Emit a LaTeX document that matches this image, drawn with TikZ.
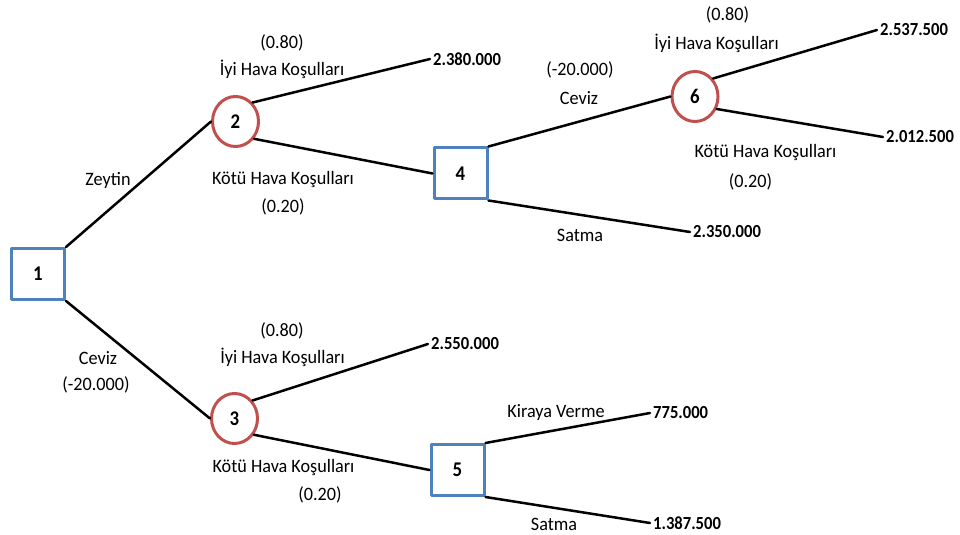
\documentclass[tikz,border=0pt]{standalone}
\usepackage{fontspec}
\setmainfont{Carlito}[FakeStretch=0.96]
\newfontfamily\numfont{Carlito}[FakeStretch=0.9]
\usepackage{tikz}
\usetikzlibrary{shapes.geometric}
\usetikzlibrary{positioning}
\definecolor{boxcol}{rgb}{0.31,0.506,0.741}
\definecolor{ringcol}{rgb}{0.753,0.314,0.302}
\tikzset{every node/.style={font=\fontsize{19}{21}\selectfont}, decision/.style={draw=boxcol, line width=3bp, rectangle, minimum width=53bp, minimum height=51bp, inner sep=0pt, font=\fontsize{21}{22}\selectfont\numfont\bfseries}, chance/.style={draw=ringcol, line width=3bp, ellipse, minimum width=46bp, minimum height=50bp, inner sep=0pt, font=\fontsize{21}{22}\selectfont\numfont\bfseries}, payoff/.style={anchor=west, inner sep=3bp, font=\fontsize{18.5}{20}\selectfont\numfont\bfseries}, branch/.style={line width=2.5bp, line cap=round}}

\begin{document}
\begin{tikzpicture}[line join=bevel,]
\useasboundingbox (0bp,0bp) rectangle (960bp,535bp);
%%
  \node (n1) at (38.0bp,261.0bp) [decision] {1};
  \node (n2) at (235.5bp,413.5bp) [chance] {2};
  \node (n3) at (234.5bp,116.5bp) [chance] {3};
  \node (n4) at (460.5bp,361.5bp) [decision] {4};
  \node (n5) at (457.5bp,65.0bp) [decision] {5};
  \node (n6) at (695.0bp,438.5bp) [chance] {6};
  \node (v_1) at (430.0bp,476.0bp) [payoff] {2.380.000};
  \node (v_2) at (877.0bp,505.0bp) [payoff] {2.537.500};
  \node (v_3) at (883.0bp,398.0bp) [payoff] {2.012.500};
  \node (v_4) at (690.0bp,303.0bp) [payoff] {2.350.000};
  \node (v_5) at (428.0bp,191.0bp) [payoff] {2.550.000};
  \node (v_6) at (650.0bp,122.0bp) [payoff] {775.000};
  \node (v_7) at (650.0bp,12.0bp) [payoff] {1.387.500};
  \draw [branch] (n1.north east) -- (n2.west);
  \node (l_zey) at (108.0bp,355.0bp) {Zeytin};
  \draw [branch] (n1.south east) -- (n3.west);
  \node (l_cev1) at (98.0bp,177.0bp) {Ceviz};
  \node (l_cev1c) at (96.0bp,150.0bp) {(-20.000)};
  \draw [branch] (n2.48) -- (v_1.west);
  \node (l_p21) at (282.0bp,492.0bp) {(0.80)};
  \node (l_iyi2) at (282.0bp,466.0bp) {İyi Hava Koşulları};
  \draw [branch] (n2.-43) -- (n4.west);
  \node (l_kot2) at (283.0bp,355.0bp) {Kötü Hava Koşulları};
  \node (l_p22) at (283.0bp,328.0bp) {(0.20)};
  \draw [branch] (n4.north east) -- (n6.west);
  \node (l_cev4c) at (580.0bp,465.0bp) {(-20.000)};
  \node (l_cev4) at (579.0bp,437.0bp) {Ceviz};
  \draw [branch] (n4.south east) -- (v_4.west);
  \node (l_sat4) at (580.0bp,300.0bp) {Satma};
  \draw [branch] (n6.45) -- (v_2.west);
  \node (l_p61) at (727.5bp,520.0bp) {(0.80)};
  \node (l_iyi6) at (716.5bp,492.0bp) {İyi Hava Koşulları};
  \draw [branch] (n6.-30) -- (v_3.west);
  \node (l_kot6) at (765.5bp,382.0bp) {Kötü Hava Koşulları};
  \node (l_p62) at (750.5bp,353.0bp) {(0.20)};
  \draw [branch] (n3.45) -- (v_5.west);
  \node (l_p31) at (282.0bp,204.0bp) {(0.80)};
  \node (l_iyi3) at (282.5bp,178.0bp) {İyi Hava Koşulları};
  \draw [branch] (n3.-40) -- (n5.west);
  \node (l_kot3) at (283.5bp,67.0bp) {Kötü Hava Koşulları};
  \node (l_p32) at (320.0bp,40.0bp) {(0.20)};
  \draw [branch] (n5.north east) -- (v_6.west);
  \node (l_kir5) at (556.0bp,122.0bp) {Kiraya Verme};
  \draw [branch] (n5.south east) -- (v_7.west);
  \node (l_sat5) at (554.0bp,11.0bp) {Satma};
%
\end{tikzpicture}
\end{document}
